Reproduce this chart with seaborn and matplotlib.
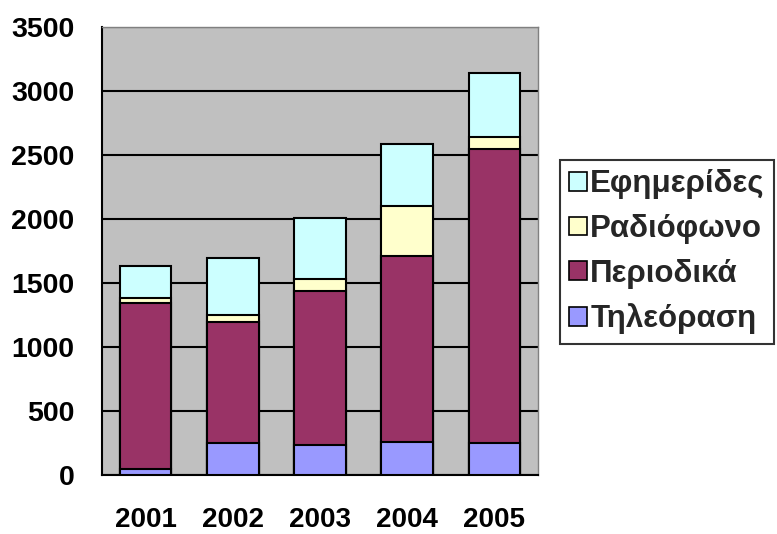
import matplotlib
matplotlib.use("Agg")
import matplotlib.pyplot as plt
from matplotlib.patches import Patch
import numpy as np
import pandas as pd
import seaborn as sns

# Advertising spend per medium, by year (stacked bottom to top)
years = ["2001", "2002", "2003", "2004", "2005"]
tileorasi = [50, 250, 240, 260, 250]      # Τηλεόραση
periodika = [1300, 950, 1200, 1450, 2300]  # Περιοδικά
radiofono = [35, 50, 90, 390, 90]          # Ραδιόφωνο
efimerides = [250, 450, 480, 490, 500]     # Εφημερίδες

series_names = ["Τηλεόραση", "Περιοδικά", "Ραδιόφωνο", "Εφημερίδες"]
series_values = [tileorasi, periodika, radiofono, efimerides]
series_colors = ["#9999FF", "#993366", "#FFFFCC", "#CCFFFF"]
y_ticks = [0, 500, 1000, 1500, 2000, 2500, 3000, 3500]

sns.set_theme(style="white")
plt.rcParams["font.family"] = ["Liberation Sans", "DejaVu Sans"]
plt.rcParams["font.weight"] = "bold"

fig = plt.figure(figsize=(7.77, 5.34), dpi=100)
ax = fig.add_axes([0.1313, 0.1099, 0.5611, 0.839])
ax.set_facecolor("#C0C0C0")

# Cumulative heights; draw the tallest layer first so lower layers sit on top
cum = np.cumsum(np.array(series_values, dtype=float), axis=0)
for i in range(len(series_names) - 1, -1, -1):
    df = pd.DataFrame({"year": years, "value": cum[i]})
    sns.barplot(data=df, x="year", y="value", color=series_colors[i],
                saturation=1, width=0.59, edgecolor="black", linewidth=1.5,
                ax=ax, zorder=3)

ax.set_xlim(-0.5, len(years) - 0.5)
ax.set_ylim(0, 3500)
ax.set_yticks(y_ticks)
ax.set_yticklabels([str(t) for t in y_ticks])
ax.yaxis.grid(True, color="black", linewidth=1.5, zorder=0)
ax.set_axisbelow(True)
ax.set_xlabel("")
ax.set_ylabel("")

# Category labels at centres, tick marks at category boundaries
ax.set_xticks(range(len(years)))
ax.set_xticklabels(years)
ax.set_xticks(np.arange(-0.5, len(years), 1.0), minor=True)
ax.tick_params(axis="x", which="major", length=0, pad=23, labelsize=20)
ax.tick_params(axis="x", which="minor", length=8, width=1.5, color="black",
               direction="out")
ax.tick_params(axis="y", which="major", length=8, width=1.5, color="black",
               direction="out", pad=12, labelsize=20.5)
for lab in ax.get_xticklabels() + ax.get_yticklabels():
    lab.set_fontweight("bold")
    lab.set_color("black")

for side in ["left", "bottom"]:
    ax.spines[side].set_color("black")
    ax.spines[side].set_linewidth(1.5)
for side in ["top", "right"]:
    ax.spines[side].set_color("#808080")
    ax.spines[side].set_linewidth(1.0)

handles = [Patch(facecolor=series_colors[i], edgecolor="black", linewidth=1.2,
                 label=series_names[i]) for i in range(len(series_names) - 1, -1, -1)]
leg = fig.legend(handles=handles, loc="upper left",
                 bbox_to_anchor=(560 / 777, 1 - 160 / 534),
                 frameon=True, fancybox=False, shadow=False,
                 prop={"family": "Liberation Sans", "weight": "bold", "size": 22.5},
                 handlelength=0.55, handleheight=0.55, handletextpad=0.12,
                 labelspacing=0.47, borderpad=0.3, borderaxespad=0)
leg.get_frame().set_edgecolor("black")
leg.get_frame().set_linewidth(1.5)
leg.get_frame().set_facecolor("white")

fig.savefig("out.png", dpi=100, facecolor="white")
